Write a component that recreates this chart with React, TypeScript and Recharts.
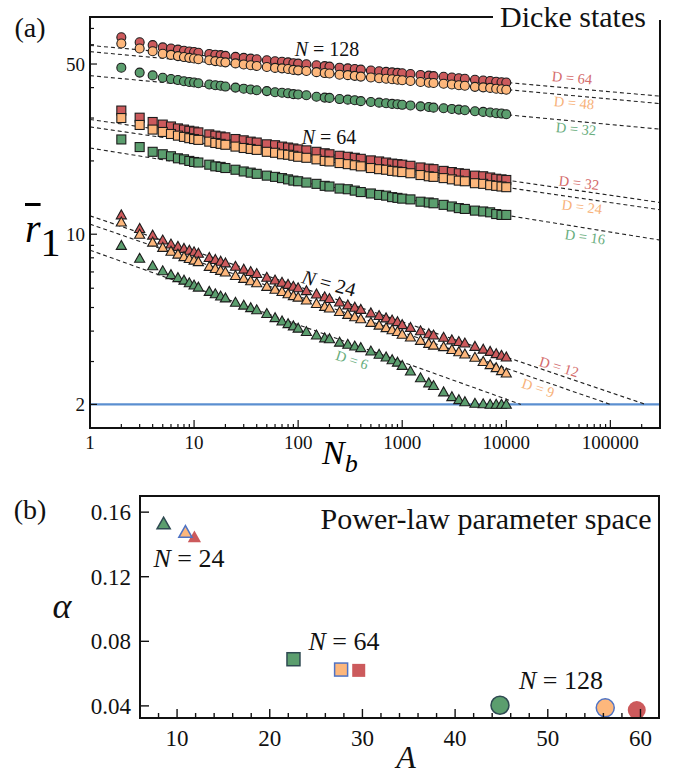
import React from 'react';
import { ComposedChart, Scatter, XAxis, YAxis, ReferenceLine } from 'recharts';

const serif = "'Liberation Serif', 'DejaVu Serif', 'Times New Roman', serif";

const RED = '#cc5a5c';
const ORANGE = '#fdb77c';
const GREEN = '#5b9e6e';
const RED_TXT = '#d46b6b';
const ORANGE_TXT = '#f7b27a';
const GREEN_TXT = '#68ad7d';

// batch sizes N_b shared by every series in panel (a)
const nb = [2, 3, 4, 5, 6, 7, 8, 9, 10, 11, 14, 16, 18, 20, 25, 30, 35, 40, 50, 60, 70, 80, 90, 100,
  120, 150, 180, 200, 250, 300, 350, 400, 500, 600, 700, 800, 900, 1000, 1200, 1500, 1800, 2000,
  2500, 3000, 3500, 4000, 5000, 6000, 7000, 8000, 9000, 10000];

// mean r1 for each (N, D)
const n128d64 = [64.4, 61.4, 59.8, 58.5, 57.9, 57.3, 56.7, 56.3, 56.0, 55.6, 55.0, 54.6, 54.4, 54.0, 53.5, 53.0,
  52.6, 52.3, 51.8, 51.3, 51.1, 50.8, 50.4, 50.2, 49.9, 49.4, 49.0, 48.8, 48.3, 48.0, 47.7, 47.4, 47.0, 46.7,
  46.4, 46.2, 46.0, 45.8, 45.5, 45.1, 44.8, 44.6, 44.3, 44.0, 43.7, 43.5, 43.1, 42.8, 42.6, 42.3, 42.1, 42.0];
const n128d48 = [60.7, 57.9, 56.4, 55.1, 54.5, 53.9, 53.4, 53.0, 52.7, 52.3, 51.8, 51.4, 51.1, 50.8, 50.3, 49.8,
  49.4, 49.1, 48.6, 48.2, 48.0, 47.7, 47.3, 47.1, 46.8, 46.3, 45.9, 45.7, 45.2, 45.0, 44.7, 44.4, 44.0, 43.7,
  43.5, 43.3, 43.1, 42.9, 42.6, 42.2, 41.9, 41.8, 41.5, 41.2, 40.9, 40.7, 40.3, 40.1, 39.9, 39.6, 39.4, 39.2];
const n128d32 = [48.3, 46.1, 44.9, 43.9, 43.4, 43.0, 42.5, 42.2, 42.0, 41.7, 41.2, 40.9, 40.7, 40.4, 40.0, 39.6,
  39.3, 39.0, 38.7, 38.3, 38.1, 37.9, 37.6, 37.5, 37.2, 36.7, 36.4, 36.3, 35.9, 35.7, 35.5, 35.2, 34.9, 34.7,
  34.5, 34.3, 34.2, 34.0, 33.8, 33.5, 33.3, 33.1, 32.9, 32.7, 32.5, 32.3, 32.0, 31.8, 31.6, 31.4, 31.3, 31.1];
const n64d32 = [32.2, 30.1, 28.9, 28.2, 27.7, 27.2, 26.9, 26.6, 26.4, 26.2, 25.7, 25.4, 25.2, 25.0, 24.6, 24.3,
  24.0, 23.8, 23.4, 23.2, 22.9, 22.7, 22.5, 22.3, 22.1, 21.8, 21.5, 21.3, 21.0, 20.8, 20.6, 20.4, 20.1, 19.9,
  19.7, 19.5, 19.4, 19.3, 19.1, 18.8, 18.6, 18.5, 18.2, 18.0, 17.8, 17.7, 17.4, 17.3, 17.1, 16.9, 16.8, 16.7];
const n64d24 = [30.0, 28.1, 26.9, 26.3, 25.8, 25.4, 25.1, 24.8, 24.6, 24.4, 24.0, 23.7, 23.5, 23.3, 22.9, 22.6,
  22.4, 22.2, 21.8, 21.6, 21.3, 21.2, 21.0, 20.8, 20.6, 20.3, 20.0, 19.9, 19.6, 19.4, 19.2, 19.0, 18.7, 18.5,
  18.4, 18.2, 18.1, 18.0, 17.8, 17.5, 17.3, 17.2, 17.0, 16.8, 16.6, 16.5, 16.2, 16.1, 15.9, 15.8, 15.7, 15.6];
const n64d16 = [24.5, 22.8, 21.8, 21.3, 20.9, 20.5, 20.3, 20.0, 19.8, 19.7, 19.3, 19.0, 18.9, 18.7, 18.4, 18.1,
  17.9, 17.7, 17.4, 17.2, 17.0, 16.8, 16.6, 16.5, 16.3, 16.1, 15.8, 15.7, 15.4, 15.3, 15.1, 14.9, 14.7, 14.5,
  14.4, 14.2, 14.1, 14.0, 13.9, 13.6, 13.5, 13.4, 13.2, 13.0, 12.8, 12.7, 12.5, 12.4, 12.3, 12.1, 12.0, 12.0];
const n24d12 = [12.0, 10.55, 9.91, 9.46, 9.11, 8.91, 8.74, 8.59, 8.46, 8.35, 8.02, 7.87, 7.74, 7.62, 7.38, 7.18,
  7.02, 6.89, 6.65, 6.48, 6.34, 6.22, 6.11, 6.02, 5.86, 5.68, 5.53, 5.44, 5.26, 5.12, 5.01, 4.91, 4.75, 4.63,
  4.53, 4.44, 4.37, 4.25, 4.14, 4.01, 3.90, 3.85, 3.77, 3.68, 3.62, 3.57, 3.46, 3.37, 3.30, 3.23, 3.18, 3.13];
const n24d9 = [11.21, 9.99, 9.27, 8.82, 8.51, 8.28, 8.08, 7.94, 7.82, 7.71, 7.37, 7.22, 7.10, 6.99, 6.76, 6.58,
  6.43, 6.31, 6.10, 5.94, 5.81, 5.69, 5.59, 5.51, 5.36, 5.19, 5.05, 4.97, 4.81, 4.68, 4.58, 4.49, 4.34, 4.23,
  4.13, 4.05, 3.98, 3.88, 3.78, 3.66, 3.56, 3.50, 3.45, 3.36, 3.29, 3.22, 3.12, 3.00, 2.91, 2.83, 2.75, 2.69];
const n24d6 = [8.99, 7.96, 7.41, 7.07, 6.82, 6.63, 6.47, 6.31, 6.18, 6.06, 5.82, 5.69, 5.57, 5.47, 5.25, 5.11,
  4.99, 4.89, 4.72, 4.54, 4.40, 4.29, 4.20, 4.11, 3.98, 3.85, 3.75, 3.72, 3.60, 3.53, 3.47, 3.42, 3.31, 3.21,
  3.13, 3.05, 2.98, 2.89, 2.74, 2.57, 2.45, 2.39, 2.25, 2.15, 2.09, 2.05, 2.02, 2.01, 2.0, 2.0, 2.0, 2.0];

// dashed power-law fits, one segment per series (same order as the series list below)
const fitA = [59.6, 56.2, 44.8, 29.6, 27.6, 22.6, 11.9, 11.0, 8.6];
const fitEndX = [300000, 300000, 300000, 300000, 300000, 300000, 218000, 100000, 13800];
const fitEndY = [36.9, 34.4, 27.0, 13.5, 12.6, 9.46, 2, 2, 2];

// panel (b): fitted A and alpha, same order
const paramA = [59.6, 56.2, 44.84, 29.6, 27.7, 22.56, 11.87, 10.9, 8.55];
const paramAlpha = [0.0374, 0.0388, 0.0404, 0.062, 0.0625, 0.0689, 0.1445, 0.1476, 0.1528];

const topYTicks = [2, 3, 4, 5, 6, 7, 8, 9, 10, 20, 30, 40, 50, 60, 70];
const topYLabels = [2, 10, 50];
const topXTicks = [1, 2, 3, 4, 5, 6, 7, 8, 9, 10, 20, 30, 40, 50, 60, 70, 80, 90, 100, 200, 300, 400, 500, 600,
  700, 800, 900, 1000, 2000, 3000, 4000, 5000, 6000, 7000, 8000, 9000, 10000, 20000, 30000, 40000, 50000,
  60000, 70000, 80000, 90000, 100000, 200000];
const topXLabels = [1, 10, 100, 1000, 10000, 100000];
const botXTicks = [8, 10, 12, 14, 16, 18, 20, 22, 24, 26, 28, 30, 32, 34, 36, 38, 40, 42, 44, 46, 48, 50, 52, 54, 56, 58, 60];
const botXLabels = [10, 20, 30, 40, 50, 60];
const botYTicks = [0.04, 0.08, 0.12, 0.16];

const series = [
  { v: n128d64, kind: 'circle', fill: RED },
  { v: n128d48, kind: 'circle', fill: ORANGE },
  { v: n128d32, kind: 'circle', fill: GREEN },
  { v: n64d32, kind: 'square', fill: RED },
  { v: n64d24, kind: 'square', fill: ORANGE },
  { v: n64d16, kind: 'square', fill: GREEN },
  { v: n24d12, kind: 'triangle', fill: RED },
  { v: n24d9, kind: 'triangle', fill: ORANGE },
  { v: n24d6, kind: 'triangle', fill: GREEN },
];

// outlines used in panel (b)
const bStroke = ['none', '#4f73c4', '#2f4a52'];

const marker = (kind: string, fill: string, r: number, stroke: string, sw: number) => (p: any) => {
  const { cx, cy } = p;
  if (cx == null || cy == null) return <g />;
  if (kind === 'circle') return <circle cx={cx} cy={cy} r={r} fill={fill} stroke={stroke} strokeWidth={sw} />;
  if (kind === 'square')
    return <rect x={cx - r} y={cy - r} width={2 * r} height={2 * r} fill={fill} stroke={stroke} strokeWidth={sw} />;
  return (
    <polygon
      points={`${cx},${cy - r * 1.1} ${cx - r * 1.1},${cy + r * 0.85} ${cx + r * 1.1},${cy + r * 0.85}`}
      fill={fill}
      stroke={stroke}
      strokeWidth={sw}
    />
  );
};

const TopXTick = (props: any) => {
  const { x, y, payload } = props;
  const major = topXLabels.includes(payload.value);
  return (
    <g>
      <line x1={x} x2={x} y1={y} y2={y - (major ? 8 : 4)} stroke="#111" strokeWidth={1.2} />
      {major && (
        <text x={x} y={y + 21} textAnchor="middle" fontSize={19} fontFamily={serif} fill="#111">
          {payload.value}
        </text>
      )}
    </g>
  );
};

const TopYTick = (props: any) => {
  const { x, y, payload } = props;
  const major = topYLabels.includes(payload.value);
  return (
    <g>
      <line x1={x} x2={x + (major ? 7 : 4)} y1={y} y2={y} stroke="#111" strokeWidth={1.2} />
      {major && (
        <text x={x - 5} y={y} dy="0.35em" textAnchor="end" fontSize={19} fontFamily={serif} fill="#111">
          {payload.value}
        </text>
      )}
    </g>
  );
};

const BotXTick = (props: any) => {
  const { x, y, payload } = props;
  const major = botXLabels.includes(payload.value);
  return (
    <g>
      <line x1={x} x2={x} y1={y} y2={y - (major ? 9 : 5)} stroke="#111" strokeWidth={1.4} />
      {major && (
        <text x={x} y={y + 28} textAnchor="middle" fontSize={23} fontFamily={serif} fill="#111">
          {payload.value}
        </text>
      )}
    </g>
  );
};

const BotYTick = (props: any) => {
  const { x, y, payload } = props;
  return (
    <g>
      <line x1={x} x2={x + 9} y1={y} y2={y} stroke="#111" strokeWidth={1.4} />
      <text x={x - 9} y={y} dy="0.35em" textAnchor="end" fontSize={23} fontFamily={serif} fill="#111">
        {Number(payload.value).toFixed(2)}
      </text>
    </g>
  );
};

const Txt = ({ x, y, size, color = '#111', rot = 0, children }: any) => (
  <div
    style={{
      position: 'absolute',
      left: x,
      top: y,
      transform: `translate(-50%, -50%) rotate(${rot}deg)`,
      fontSize: size,
      color,
      fontFamily: serif,
      whiteSpace: 'nowrap',
      lineHeight: 1,
    }}
  >
    {children}
  </div>
);

const frame = (left: number, top: number, width: number, height: number): React.CSSProperties => ({
  position: 'absolute',
  left,
  top,
  width,
  height,
  border: '2px solid #111',
  boxSizing: 'border-box',
  pointerEvents: 'none',
});

export default function App() {
  const topData = series.map((s) => s.v.map((y, i) => ({ x: nb[i], y })));
  const fits = fitA.map((a, i) => [
    { x: 1, y: a },
    { x: fitEndX[i], y: fitEndY[i] },
  ]);

  return (
    <div style={{ position: 'absolute', left: 0, top: 0, width: 689, height: 774, background: '#fff', fontFamily: serif }}>
      <div style={{ position: 'absolute', left: 0, top: 0 }}>
        <ComposedChart width={689} height={470} margin={{ top: 17, right: 29, bottom: 12, left: 30 }}>
          <XAxis
            type="number"
            dataKey="x"
            scale="log"
            domain={[1, 300000]}
            allowDataOverflow
            ticks={topXTicks}
            interval={0}
            tick={TopXTick}
            tickLine={false}
            tickSize={0}
            tickMargin={0}
            axisLine={false}
            height={30}
          />
          <YAxis
            type="number"
            dataKey="y"
            scale="log"
            domain={[1.6, 78]}
            allowDataOverflow
            ticks={topYTicks}
            interval={0}
            tick={TopYTick}
            tickLine={false}
            tickSize={0}
            tickMargin={0}
            axisLine={false}
            width={60}
          />
          <ReferenceLine y={2} stroke="#5b8fd0" strokeWidth={2.2} />
          {fits.map((d, i) => (
            <Scatter
              key={'fit' + i}
              data={d}
              line={{ stroke: '#222', strokeWidth: 1.1, strokeDasharray: '4 3' }}
              shape={() => <g />}
              isAnimationActive={false}
            />
          ))}
          {topData.map((d, i) => (
            <Scatter
              key={'s' + i}
              data={d}
              shape={marker(series[i].kind, series[i].fill, series[i].kind === 'triangle' ? 4.6 : 4.5, '#1c1c1c', 1.1)}
              isAnimationActive={false}
            />
          ))}
        </ComposedChart>
      </div>
      <div style={frame(89, 16, 572, 413)} />
      <div
        style={{
          position: 'absolute',
          left: 493,
          top: 0,
          width: 170,
          height: 20,
          background: '#fff',
        }}
      />
      <Txt x={573} y={17} size={30}>Dicke states</Txt>

      <Txt x={30} y={28} size={28}>(a)</Txt>
      <div style={{ position: 'absolute', left: 25, top: 209, fontSize: 40, lineHeight: 1, whiteSpace: 'nowrap', fontFamily: serif }}>
        <span style={{ fontStyle: 'italic', textDecoration: 'overline', textDecorationThickness: 3 }}>r</span>
        <span style={{ position: 'relative', top: 14 }}>1</span>
      </div>
      <div style={{ position: 'absolute', left: 322, top: 436, fontSize: 34, lineHeight: 1, whiteSpace: 'nowrap', fontFamily: serif }}>
        <i>N</i>
        <i style={{ fontSize: 26, position: 'relative', top: 8 }}>b</i>
      </div>

      <Txt x={327} y={49} size={20}><i>N</i> = 128</Txt>
      <Txt x={329} y={137} size={20}><i>N</i> = 64</Txt>
      <Txt x={329} y={283} size={20} rot={15}><i>N</i> = 24</Txt>
      <Txt x={572} y={78} size={14.5} color={RED_TXT} rot={5}>D = 64</Txt>
      <Txt x={574} y={103} size={14.5} color={ORANGE_TXT} rot={5}>D = 48</Txt>
      <Txt x={576} y={129} size={14.5} color={GREEN_TXT} rot={5}>D = 32</Txt>
      <Txt x={579} y={183} size={14.5} color={RED_TXT} rot={7}>D = 32</Txt>
      <Txt x={582} y={207} size={14.5} color={ORANGE_TXT} rot={7}>D = 24</Txt>
      <Txt x={585} y={237} size={14.5} color={GREEN_TXT} rot={8}>D = 16</Txt>
      <Txt x={559} y={367} size={14.5} color={RED_TXT} rot={17}>D = 12</Txt>
      <Txt x={538} y={388} size={14.5} color={ORANGE_TXT} rot={18}>D = 9</Txt>
      <Txt x={352} y={360} size={14.5} color={GREEN_TXT} rot={18}>D = 6</Txt>

      <div style={{ position: 'absolute', left: 0, top: 470 }}>
        <ComposedChart width={689} height={304} margin={{ top: 26, right: 30, bottom: 16, left: 80 }}>
          <XAxis
            type="number"
            dataKey="x"
            domain={[6, 62]}
            allowDataOverflow
            ticks={botXTicks}
            interval={0}
            tick={BotXTick}
            tickLine={false}
            tickSize={0}
            tickMargin={0}
            axisLine={false}
            height={40}
          />
          <YAxis
            type="number"
            dataKey="y"
            domain={[0.0325, 0.17]}
            allowDataOverflow
            ticks={botYTicks}
            interval={0}
            tick={BotYTick}
            tickLine={false}
            tickSize={0}
            tickMargin={0}
            axisLine={false}
            width={60}
          />
          {paramA.map((a, i) => {
            const s = series[i];
            const outline = bStroke[i % 3];
            const r = s.kind === 'circle' ? 9 : s.kind === 'square' ? 6.5 : 6;
            return (
              <Scatter
                key={'p' + i}
                data={[{ x: a, y: paramAlpha[i] }]}
                shape={marker(s.kind, s.fill, r, outline, 1.5)}
                isAnimationActive={false}
              />
            );
          })}
        </ComposedChart>
      </div>
      <div style={frame(139, 495, 521, 224)} />
      <Txt x={30} y={510} size={28}>(b)</Txt>
      <Txt x={486} y={519} size={30}>Power-law parameter space</Txt>
      <Txt x={189} y={559} size={26}><i>N</i> = 24</Txt>
      <Txt x={344} y={642} size={26}><i>N</i> = 64</Txt>
      <Txt x={561} y={681} size={26}><i>N</i> = 128</Txt>
      <Txt x={62} y={606} size={36}><i>α</i></Txt>
      <Txt x={406} y={757} size={32}><i>A</i></Txt>
    </div>
  );
}
